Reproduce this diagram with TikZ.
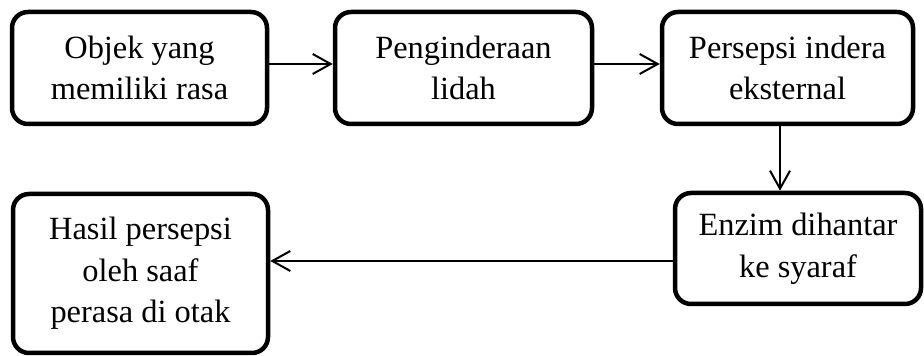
\documentclass[tikz,border=0pt]{standalone}
\usepackage{fontspec}
\setmainfont{Liberation Serif}
\usetikzlibrary{arrows.meta}

\tikzset{
  kotak/.style={draw, line width=2.25pt, rounded corners=8pt, align=center,
    font=\fontsize{16.2}{20.8}\selectfont, inner sep=0pt},
  panah/.style={line width=1pt, -{Straight Barb[length=9pt,width=10pt,line width=1pt]}}
}

\begin{document}
\begin{tikzpicture}[x=0.5pt, y=-0.5pt]
            \useasboundingbox (0,0) rectangle (924,356);

            % Baris atas
            \node[kotak, minimum width=127.5pt, minimum height=56pt] (objek) at (139.5,68) {Objek yang\\memiliki rasa};
            \node[kotak, minimum width=128.5pt, minimum height=56pt] (indera) at (463.5,68) {Penginderaan\\lidah};
            \node[kotak, minimum width=125.5pt, minimum height=56pt] (persepsi) at (787.5,68) {Persepsi indera\\eksternal};

            % Baris bawah
            \node[kotak, minimum width=123pt, minimum height=55.5pt] (enzim) at (798,248.5) {Enzim dihantar\\ke syaraf};
            \node[kotak, minimum width=127.5pt, minimum height=79.5pt] (hasil) at (140.5,273.5) {Hasil persepsi\\oleh saaf\\perasa di otak};

            % Panah
            \draw[panah] ([yshift=2pt]objek.east) -- ([yshift=2pt]objek.east -| indera.west);
            \draw[panah] ([yshift=2pt]indera.east) -- ([yshift=2pt]indera.east -| persepsi.west);
            \draw[panah] ([xshift=-3.75pt]persepsi.south) -- ([xshift=-3.75pt]persepsi.south |- enzim.north);
            \draw[panah] ([yshift=-6.25pt]enzim.west) -- ([yshift=-6.25pt]enzim.west -| hasil.east);
        \end{tikzpicture}
\end{document}
